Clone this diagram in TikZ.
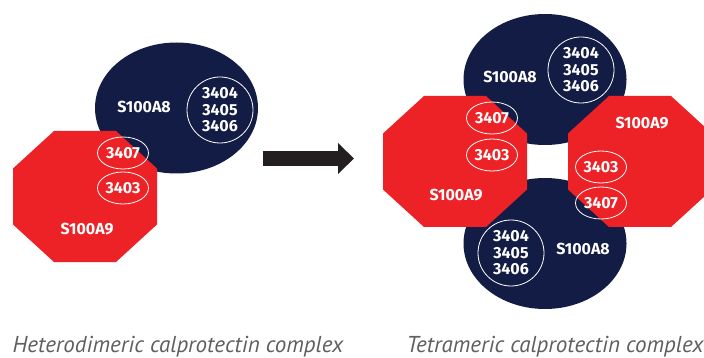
\documentclass[tikz,border=0pt]{standalone}
\usepackage{fontspec}
\setsansfont{Fira Sans}
\newfontfamily\capfont{PT Sans}
\usepackage{tikz}
\usetikzlibrary{shapes.geometric, arrows.meta}

\definecolor{navyA8}{HTML}{131C45}
\definecolor{redA9}{HTML}{EC2227}
\definecolor{arrowgray}{HTML}{231F20}
\definecolor{capgray}{HTML}{5F5F5F}

\begin{document}
\begin{tikzpicture}[x=1pt, y=-1pt,
    protA8/.style={ellipse, fill=navyA8, minimum width=163pt, minimum height=131pt, inner sep=0pt},
    protA9/.style={fill=redA9},
    octo/.style={insert path={++(-31,-65.5) -- ++(62,0) -- ++(41,37.5) -- ++(0,56) -- ++(-41,37.5) -- ++(-62,0) -- ++(-41,-37.5) -- ++(0,-56) -- cycle}},
    ring/.style={circle, draw=white, line width=0.8pt, minimum size=66pt, inner sep=0pt, align=center, text=white, font=\sffamily\bfseries\fontsize{16}{16.5}\selectfont},
    site/.style={ellipse, draw=white, line width=0.8pt, minimum width=51pt, minimum height=32pt, inner sep=0pt, text=white, font=\sffamily\bfseries\fontsize{16}{16.5}\selectfont},
    protname/.style={text=white, font=\sffamily\bfseries\fontsize{16}{16.5}\selectfont},
    captext/.style={text=capgray, anchor=base, font=\capfont\itshape\fontsize{23}{25}\selectfont},
    fatarrow/.style={draw=arrowgray, line width=15pt, -{Triangle[width=30pt, length=16pt]}}
]
\useasboundingbox (0,0) rectangle (704,358);

% heterodimer
\node[protA8] (hA8) at (176.5,108) {};
\coordinate (hA9) at (85,196.5);
\fill[protA9] (hA9) [octo];
\node[protname] (hA8name) at (144,107) {S100A8};
\node[protname] (hA9name) at (87,229) {S100A9};
\node[ring] (hring) at (220,110) {3404\\3405\\3406};
\node[site] (h3407) at (123,153) {3407};
\node[site] (h3403) at (123,188) {3403};

% arrow
\coordinate (arrS) at (263,158.5);
\coordinate (arrE) at (354,158.5);
\draw[fatarrow] (arrS) -- (arrE);

% tetramer
\node[protA8] (tA8top) at (545,79.5) {};
\node[protA8] (tA8bot) at (545,243.5) {};
\coordinate (tA9left) at (455,161.5);
\coordinate (tA9right) at (640,161.5);
\fill[protA9] (tA9left) [octo];
\fill[protA9] (tA9right) [octo];
\node[protname] (topname) at (510,77) {S100A8};
\node[ring] (topring) at (581,70) {3404\\3405\\3406};
\node[protname] (leftname) at (456,195) {S100A9};
\node[site] (l3407) at (492,118) {3407};
\node[site] (l3403) at (492,155) {3403};
\node[protname] (rightname) at (642,123) {S100A9};
\node[site] (r3403) at (601,167) {3403};
\node[site] (r3407) at (601,203) {3407};
\node[protname] (botname) at (583,249) {S100A8};
\node[ring] (botring) at (511,253) {3404\\3405\\3406};

% captions
\node[captext] (cap1) at (178,352) {Heterodimeric calprotectin complex};
\node[captext] (cap2) at (555,352) {Tetrameric calprotectin complex};
\end{tikzpicture}
\end{document}
